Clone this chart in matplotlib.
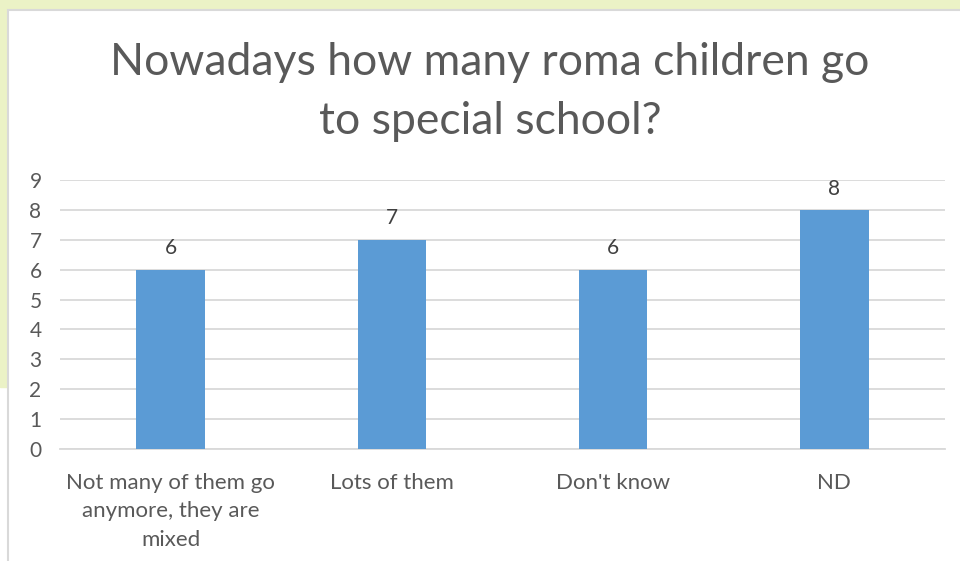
import matplotlib.pyplot as plt
from matplotlib.patches import Rectangle

categories = ["Not many of them go\nanymore, they are\nmixed", "Lots of them", "Don't know", "ND"]
values = [6, 7, 6, 8]
yticks = list(range(0, 10))

plt.rcParams['font.family'] = ['Lato', 'DejaVu Sans']
text_col = '#595959'

fig = plt.figure(figsize=(9.6, 5.61), dpi=100)
W, H = 960, 561

# green slide background behind the chart frame
fig.patches.append(Rectangle((0, 0), 1, 1, transform=fig.transFigure, color='white', zorder=-5))
fig.patches.append(Rectangle((0, 1 - 10 / H), 1, 10 / H, transform=fig.transFigure,
                             color='#ebf2c6', zorder=-4))
fig.patches.append(Rectangle((0, 1 - 387 / H), 8 / W, 387 / H, transform=fig.transFigure,
                             color='#ebf2c6', zorder=-4))
fig.patches.append(Rectangle((8 / W, -0.01), 1, 1 - 10 / H + 0.01, transform=fig.transFigure,
                             facecolor='white', edgecolor='#d9d9d9', lw=1.5, zorder=-3))

ax = fig.add_axes([60 / W, (H - 449) / H, 885 / W, 269 / H])
x = range(len(categories))
bars = ax.bar(x, values, width=0.31, color='#5b9bd5', zorder=3)
for b, v in zip(bars, values):
    ax.text(b.get_x() + b.get_width() / 2, v + 0.38, str(v), ha='center', va='bottom',
            fontsize=15, color='#404040')

ax.set_xlim(-0.5, len(categories) - 0.5)
ax.set_ylim(0, 9)
ax.set_yticks(yticks)
ax.yaxis.grid(True, color='#d9d9d9', lw=1.3, zorder=0)
ax.set_axisbelow(True)
ax.set_xticks(list(x))
ax.set_xticklabels(categories, fontsize=16, color=text_col, linespacing=1.55)
ax.tick_params(axis='y', labelsize=15, labelcolor=text_col, length=0, pad=22)
ax.tick_params(axis='x', length=0, pad=17)
for s in ['top', 'right', 'left']:
    ax.spines[s].set_visible(False)
ax.spines['bottom'].set_color('#d9d9d9')
ax.spines['bottom'].set_linewidth(1.3)
for lbl in ax.get_yticklabels():
    lbl.set_horizontalalignment('left')
ax.set_facecolor('none')

fig.text(490 / W, 1 - 92 / H, "Nowadays how many roma children go\nto special school?",
         ha='center', va='center', fontsize=32, color=text_col, linespacing=1.55)

fig.savefig('out.png', dpi=100)
